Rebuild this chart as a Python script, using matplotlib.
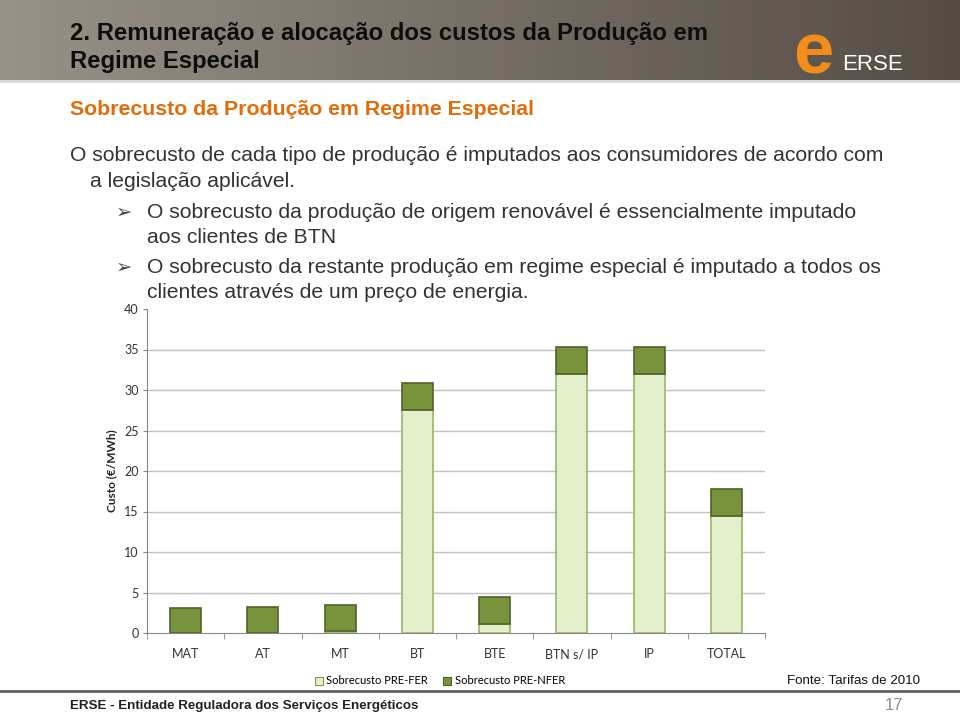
import matplotlib.pyplot as plt
import numpy as np
from matplotlib.patches import Patch, Rectangle

# Chart data (€/MWh)
categories = ["MAT", "AT", "MT", "BT", "BTE", "BTN s/ IP", "IP", "TOTAL"]
pre_fer = [0.0, 0.0, 0.3, 27.5, 1.1, 32.0, 32.0, 14.4]
pre_nfer = [3.1, 3.2, 3.15, 3.4, 3.35, 3.3, 3.3, 3.4]
series_names = ["Sobrecusto PRE-FER", "Sobrecusto PRE-NFER"]

W, H = 960, 720
fig = plt.figure(figsize=(9.6, 7.2), dpi=100)
fig.patch.set_facecolor("white")


def px(x, y):
    return x / W, 1 - y / H


# header band with horizontal gradient
hdr = fig.add_axes([0, 1 - 80 / H, 1, 80 / H])
grad = np.linspace(0, 1, 256)
c0 = np.array([0x98, 0x91, 0x87]) / 255
c1 = np.array([0x55, 0x4d, 0x45]) / 255
img = (c0[None, :] * (1 - grad[:, None]) + c1[None, :] * grad[:, None])[None, :, :]
hdr.imshow(img, aspect="auto", extent=[0, 1, 0, 1])
hdr.set_axis_off()
fig.add_artist(Rectangle(px(0, 83), 1, 3 / H, transform=fig.transFigure,
                         color="#d9d9d9", lw=0))

sans = ["Liberation Sans", "DejaVu Sans"]
fig.text(*px(70, 40), "2. Remuneração e alocação dos custos da Produção em",
         fontsize=17.2, fontweight="bold", color="#0d0d0d", family=sans, va="baseline")
fig.text(*px(70, 68), "Regime Especial",
         fontsize=17.2, fontweight="bold", color="#0d0d0d", family=sans, va="baseline")

# logo
fig.text(*px(793, 74), "e", fontsize=52, fontweight="bold", color="#F28C1A",
         family=sans, va="baseline")
fig.text(*px(842, 70), "ERSE", fontsize=16, color="white", family=sans, va="baseline")

fig.text(*px(70, 115), "Sobrecusto da Produção em Regime Especial",
         fontsize=15.3, fontweight="bold", color="#E36C0A", family=sans, va="baseline")

body = "#333333"
fs = 15.2
fig.text(*px(70, 161), "O sobrecusto de cada tipo de produção é imputados aos consumidores de acordo com",
         fontsize=fs, color=body, family=sans, va="baseline")
fig.text(*px(90, 187), "a legislação aplicável.", fontsize=fs, color=body, family=sans, va="baseline")
bullets = [
    ("O sobrecusto da produção de origem renovável é essencialmente imputado", "aos clientes de BTN", 218),
    ("O sobrecusto da restante produção em regime especial é imputado a todos os",
     "clientes através de um preço de energia.", 273),
]
for l1, l2, yb in bullets:
    fig.text(*px(116, yb), "➢", fontsize=14, color="#444444", family=["DejaVu Sans"], va="baseline")
    fig.text(*px(147, yb), l1, fontsize=fs, color=body, family=sans, va="baseline")
    fig.text(*px(147, yb + 25), l2, fontsize=fs, color=body, family=sans, va="baseline")

# chart
ax = fig.add_axes([147 / W, 87 / H, 618 / W, 324 / H])
ax.set_zorder(-1)
x = np.arange(len(categories))
c_fer = "#E4EFCB"
c_nfer = "#77933C"
ax.bar(x, pre_fer, width=0.4, color=c_fer, edgecolor="#9BB46A", linewidth=1.2, zorder=3)
ax.bar(x, pre_nfer, width=0.4, bottom=pre_fer, color=c_nfer, edgecolor="#4F6228",
       linewidth=1.2, zorder=3)

ax.set_xlim(-0.5, len(categories) - 0.5)
ax.set_ylim(0, 40)
ax.set_yticks(np.arange(0, 41, 5))
for g in np.arange(5, 40, 5):
    ax.axhline(g, color="#c0c0c0", lw=1, zorder=1)
for s in ["top", "right"]:
    ax.spines[s].set_visible(False)
ax.spines["left"].set_color("#888888")
ax.spines["bottom"].set_color("#888888")
ax.set_xticks(x)
ax.set_xticklabels(categories)
ax.set_xticks(np.arange(-0.5, len(categories), 1), minor=True)
ax.tick_params(axis="x", which="major", length=0, pad=11)
ax.tick_params(axis="x", which="minor", length=4, color="#888888")
ax.tick_params(axis="y", length=3, color="#888888", pad=3)
for lab in ax.get_xticklabels() + ax.get_yticklabels():
    lab.set_fontfamily("Lato")
    lab.set_fontsize(9)
    lab.set_color("#333333")
ax.set_ylabel("Custo (€/MWh)", fontsize=8.5, fontweight="bold", family="Lato",
              color="#222222", labelpad=5)

handles = [Patch(facecolor=c_fer, edgecolor="#7f9a4a", lw=0.8),
           Patch(facecolor=c_nfer, edgecolor="#4F6228", lw=0.8)]
fig.legend(handles, series_names, loc="center left", bbox_to_anchor=px(305, 681),
           ncol=2, frameon=False, handlelength=0.7, handleheight=0.7,
           handletextpad=0.3, columnspacing=1.4,
           prop={"family": "Lato", "size": 8})

# footer
fig.add_artist(plt.Line2D([0, 1], [1 - 691 / H] * 2, transform=fig.transFigure,
                          color="#606060", lw=2))
fig.text(*px(920, 681), "Fonte: Tarifas de 2010", fontsize=9.6, color="#111111",
         family=sans, ha="right", va="center")
fig.text(*px(70, 706), "ERSE - Entidade Reguladora dos Serviços Energéticos", fontsize=9.6,
         fontweight="bold", color="#222222", family=sans, va="center")
fig.text(*px(903, 706), "17", fontsize=12, color="#8c8c8c", family=sans, ha="right", va="center")

fig.savefig("out.png", dpi=100)
